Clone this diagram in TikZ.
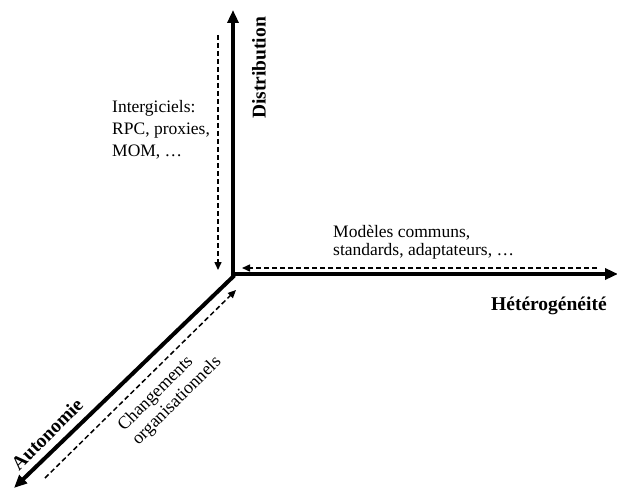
\documentclass[tikz,border=0pt]{standalone}
\usepackage{fontspec}
\setmainfont{Liberation Serif}
\usetikzlibrary{arrows.meta}
\begin{document}
\begin{tikzpicture}[x=1pt,y=-1pt,
  axis/.style={line width=4pt,-{Triangle[length=13pt,width=11pt]}},
  dash arrow/.style={line width=1.5pt,dash pattern=on 5pt off 3pt,-{Triangle[length=8pt,width=7pt]}},
  bold label/.style={font=\fontsize{19.5}{22}\selectfont\bfseries,inner sep=0pt},
  plain label/.style={inner sep=0pt,align=left}]
\useasboundingbox (0,0) rectangle (617,489);
\coordinate (O) at (233,274);
\coordinate (top) at (233,10);
\coordinate (right) at (618,274);
\coordinate (low) at (14,488);
\draw[axis] (O) -- (top);
\draw[axis] ([xshift=-2pt]O) -- (right);
\draw[axis] ([xshift=1.4pt,yshift=-1.4pt]O) -- (low);
% dashed arrows
\coordinate (d1a) at (218,35);
\coordinate (d1b) at (218,270);
\coordinate (d2a) at (597,268);
\coordinate (d2b) at (242,268);
\coordinate (d3a) at (45,478);
\coordinate (d3b) at (236,290);
\draw[dash arrow] (d1a) -- (d1b);
\draw[dash arrow] (d2a) -- (d2b);
\draw[dash arrow] (d3a) -- (d3b);
% labels
\node[bold label,rotate=90] (distrib) at (259,68) {Distribution};
\node[bold label,anchor=base west] (hetero) at (491,310) {Hétérogénéité};
\node[bold label,rotate=45] (auto) at (47,434) {Autonomie};
\node[plain label,anchor=north west,font=\fontsize{17.5}{22}\selectfont] (interg) at (112,100) {Intergiciels:\\RPC, proxies,\\MOM, …};
\node[plain label,anchor=north west,font=\fontsize{17.5}{18.5}\selectfont] (modeles) at (333,225) {Modèles communs,\\standards, adaptateurs, …};
\node[plain label,rotate=45,align=left,font=\fontsize{18}{20}\selectfont] (chg) at (170,394) {Changements\\organisationnels};
\end{tikzpicture}
\end{document}
